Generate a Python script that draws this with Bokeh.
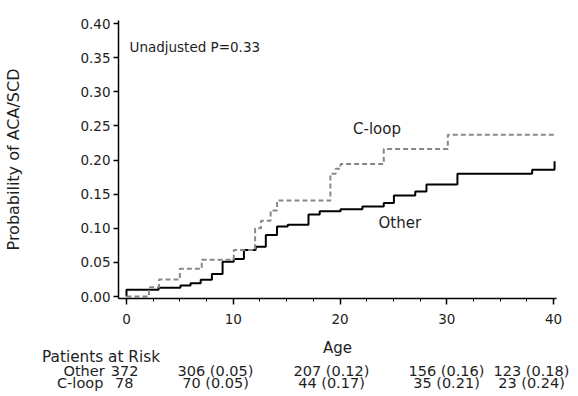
from bokeh.plotting import figure
from bokeh.models import Range1d, FixedTicker, NumeralTickFormatter, Label
from bokeh.embed import file_html
from bokeh.resources import INLINE

# ---- data ----
other_age = [0, 0, 3.0, 5.05, 6.0, 6.95, 8.0, 9.0, 10.05, 11.0, 12.1, 13.05, 14.1,
             15.1, 17.05, 18.1, 20.05, 22.1, 24.1, 25.05, 27.05, 28.1, 31.0, 38.0,
             40.1, 40.1]
other_prob = [0.0, 0.010, 0.013, 0.016, 0.0195, 0.0245, 0.033, 0.051, 0.055, 0.068,
              0.073, 0.090, 0.1025, 0.105, 0.120, 0.125, 0.128, 0.132, 0.137, 0.148,
              0.154, 0.164, 0.180, 0.1856, 0.1856, 0.198]

cloop_age = [0, 2.1, 3.05, 5.0, 7.05, 10.05, 12.05, 12.6, 13.5, 14.1, 19.1, 19.6,
             20.05, 24.1, 30.1, 40.2]
cloop_prob = [0.0, 0.0137, 0.025, 0.0405, 0.054, 0.068, 0.100, 0.111, 0.126, 0.1407,
              0.180, 0.187, 0.194, 0.216, 0.237, 0.237]

x_ticks = [0, 10, 20, 30, 40]
x_minor_ticks = [0, 2.5, 5, 7.5, 10, 12.5, 15, 17.5, 20, 22.5, 25, 27.5, 30, 32.5,
                 35, 37.5, 40]
y_ticks = [0.0, 0.05, 0.10, 0.15, 0.20, 0.25, 0.30, 0.35, 0.40]

risk_ages = [10, 20, 30, 40]
risk_groups = ["Other", "C-loop"]
risk_start = [372, 78]
risk_other = ["306 (0.05)", "207 (0.12)", "156 (0.16)", "123 (0.18)"]
risk_cloop = ["70 (0.05)", "44 (0.17)", "35 (0.21)", "23 (0.24)"]
risk_title = "Patients at Risk"
p_text = "Unadjusted P=0.33"

FONT = "DejaVu Sans"
INK = "#1e1e1e"
W, H = 578, 396

# pixel geometry of the reference: age 0 at x=126, 10.675 px per year;
# probability 0 at y=296, 682.5 px per unit.  The frame covers the whole canvas,
# the axes are pinned with fixed_location so the risk table can sit below them.
X0, XS = 126.0, 10.675
Y0, YS = 296.0, 682.5


def dx(px):
    return (px - X0) / XS


def dy(py):
    return (Y0 - py) / YS


p = figure(width=W, height=H, output_backend="svg", toolbar_location=None,
           x_range=Range1d(dx(0), dx(W)), y_range=Range1d(dy(H), dy(0)),
           min_border=0)
p.outline_line_color = None
p.grid.visible = False
p.background_fill_color = "white"
p.border_fill_color = "white"

p.step(other_age, other_prob, mode="after", line_color="black", line_width=2)
p.step(cloop_age, cloop_prob, mode="after", line_color="#888888", line_width=2,
       line_dash="5 3")

# axes
x_lo, x_hi = dx(118), dx(556)
y_lo, y_hi = dy(298), dy(20)
xa = p.xaxis[0]
xa.ticker = FixedTicker(ticks=x_ticks, minor_ticks=x_minor_ticks)
xa.axis_label = "Age"
xa.fixed_location = y_lo
xa.bounds = (x_lo, x_hi)
ya = p.yaxis[0]
ya.ticker = FixedTicker(ticks=y_ticks, minor_ticks=[])
ya.formatter = NumeralTickFormatter(format="0.00")
ya.axis_label = "Probability of ACA/SCD"
ya.fixed_location = x_lo
ya.bounds = (y_lo, y_hi)
for ax in (xa, ya):
    ax.axis_line_color = "black"
    ax.axis_line_width = 1.5
    ax.major_tick_line_color = "black"
    ax.major_tick_line_width = 1.5
    ax.minor_tick_line_color = "black"
    ax.major_tick_in = 0
    ax.minor_tick_in = 0
    ax.major_label_text_font = FONT
    ax.major_label_text_font_size = "13.5px"
    ax.major_label_text_color = INK
    ax.axis_label_text_font = FONT
    ax.axis_label_text_font_style = "normal"
    ax.axis_label_text_color = INK
xa.major_tick_out = 6
xa.minor_tick_out = 3
xa.major_label_standoff = 9
xa.axis_label_text_font_size = "15px"
xa.axis_label_standoff = 12
ya.major_tick_out = 5
ya.major_label_standoff = 3
ya.axis_label_text_font_size = "16px"
ya.axis_label_standoff = 54


def add_text(px, py, text, size, align="left"):
    p.add_layout(Label(x=dx(px), y=dy(py), text=text, text_font=FONT,
                       text_font_size=size, text_color=INK, text_align=align,
                       text_baseline="middle"))


# annotations inside the plot
add_text(129, 46, p_text, "13.5px")
add_text(352.5, 128, "C-loop", "15px")
add_text(378, 222, "Other", "15px")

# risk table below the axis
add_text(41.5, 356, risk_title, "15.3px")
row_y = [370, 382]
name_x = [63, 56.5]
count_right = [138, 133]
for g, n, ry, nx, cr in zip(risk_groups, risk_start, row_y, name_x, count_right):
    add_text(nx, ry, g, "14.5px")
    add_text(cr, ry, str(n), "14.5px", "right")
col_x = [215, 331, 446, 531]
for cx, a, b in zip(col_x, risk_other, risk_cloop):
    add_text(cx, row_y[0], a, "14.5px", "center")
    add_text(cx, row_y[1], b, "14.5px", "center")

open("out.html", "w").write(file_html(p, INLINE))
